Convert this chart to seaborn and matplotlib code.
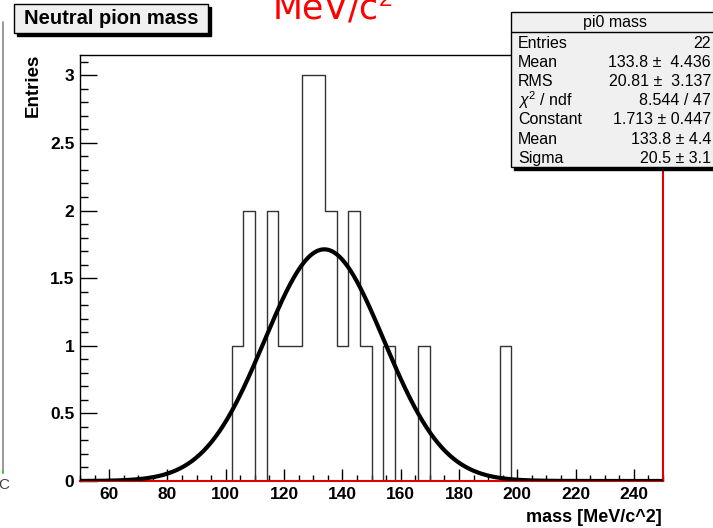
import numpy as np
import pandas as pd
import matplotlib
matplotlib.use("Agg")
import matplotlib.pyplot as plt
from matplotlib.patches import Rectangle
from matplotlib.lines import Line2D
from matplotlib.ticker import MultipleLocator, FuncFormatter
import seaborn as sns

# ---------------- data ----------------
x_range = (50, 250)
n_bins = 50
counts = [0, 0, 0, 0, 0, 0, 0, 0, 0, 0,
          0, 0, 0, 1, 2, 0, 2, 1, 1, 3,
          3, 2, 1, 2, 1, 0, 1, 0, 0, 1,
          0, 0, 0, 0, 0, 0, 1, 0, 0, 0,
          0, 0, 0, 0, 0, 0, 0, 0, 0, 0]
fit_const = 1.713
fit_mean = 133.8
fit_sigma = 20.5
x_ticks = [60, 80, 100, 120, 140, 160, 180, 200, 220, 240]
y_ticks = [0, 0.5, 1, 1.5, 2, 2.5, 3]
y_max = 3.15

stats_title = "pi0 mass"
stats_names = ["Entries", "Mean", "RMS", r"$\chi^{2}$ / ndf", "Constant", "Mean", "Sigma"]
stats_values = ["22", "133.8 \u00b1  4.436", "20.81 \u00b1  3.137", "8.544 / 47",
                "1.713 \u00b1 0.447", "133.8 \u00b1 4.4", "20.5 \u00b1 3.1"]
title_text = "Neutral pion mass"
x_label = "mass [MeV/c^2]"
y_label = "Entries"
# --------------------------------------

sns.set_style("ticks")
plt.rcParams["font.family"] = ["Liberation Sans", "DejaVu Sans"]
plt.rcParams["mathtext.fontset"] = "custom"
plt.rcParams["mathtext.rm"] = "Liberation Sans"
plt.rcParams["mathtext.it"] = "Liberation Sans:italic"
plt.rcParams["text.color"] = "black"
plt.rcParams["xtick.color"] = "black"
plt.rcParams["ytick.color"] = "black"

W, H = 713, 528
fig = plt.figure(figsize=(W / 100, H / 100), dpi=100)
fig.patch.set_facecolor("white")


def fx(px):
    return px / W


def fy(py):
    return 1 - py / H


ax = fig.add_axes([fx(80), fy(481), (663 - 80) / W, (481 - 55) / H])
ax.set_facecolor("white")

bin_w = (x_range[1] - x_range[0]) / n_bins
centers = x_range[0] + bin_w * (np.arange(n_bins) + 0.5)
df = pd.DataFrame({"mass": centers, "n": np.asarray(counts, dtype=float)})
sns.histplot(data=df, x="mass", weights="n", bins=n_bins, binrange=x_range,
             element="step", fill=False, color="#333333", linewidth=1.0,
             ax=ax, zorder=2)

xs = np.linspace(x_range[0], x_range[1], 600)
ys = fit_const * np.exp(-0.5 * ((xs - fit_mean) / fit_sigma) ** 2)
sns.lineplot(x=xs, y=ys, color="black", linewidth=3.0, ax=ax, zorder=3)

ax.set_xlim(*x_range)
ax.set_ylim(0, y_max)
ax.set_xticks(x_ticks)
ax.set_yticks(y_ticks)
ax.xaxis.set_minor_locator(MultipleLocator(5))
ax.yaxis.set_minor_locator(MultipleLocator(0.1))
ax.yaxis.set_major_formatter(FuncFormatter(lambda v, p: f"{v:g}"))
ax.tick_params(axis="both", which="both", bottom=True, left=True,
               top=False, right=False, colors="black")
ax.tick_params(axis="x", which="major", direction="in", length=9, width=1,
               pad=4, labelsize=12.5)
ax.tick_params(axis="x", which="minor", direction="in", length=4.5, width=1)
ax.tick_params(axis="y", which="major", direction="in", length=12, width=1,
               pad=4, labelsize=12.5)
ax.tick_params(axis="y", which="minor", direction="in", length=6, width=1)
for lab in ax.get_xticklabels() + ax.get_yticklabels():
    lab.set_fontweight("bold")

ax.set_xlabel("")
ax.set_ylabel("")
for side in ["left", "top"]:
    ax.spines[side].set_color("black")
    ax.spines[side].set_linewidth(1.0)
for side in ["bottom", "right"]:
    ax.spines[side].set_color("#e00000")
    ax.spines[side].set_linewidth(1.5)

fig.text(fx(662), fy(517), x_label, ha="right", va="center",
         fontsize=13, fontweight="bold")
fig.text(fx(33), fy(54), y_label, ha="center", va="top", rotation=90,
         fontsize=13.5, fontweight="bold")

# title box
fig.add_artist(Rectangle((fx(17), fy(36)), (208 - 14) / W, (33 - 4) / H,
                         transform=fig.transFigure, facecolor="black",
                         edgecolor="black", zorder=10))
fig.add_artist(Rectangle((fx(14), fy(33)), (208 - 14) / W, (33 - 4) / H,
                         transform=fig.transFigure, facecolor="#f0f0f0",
                         edgecolor="black", linewidth=1, zorder=11))
fig.text(fx(111), fy(18.5), title_text, ha="center", va="center",
         fontsize=14.5, fontweight="bold", zorder=12)

# stats box
bx0, by0, by1 = 511, 12, 167
fig.add_artist(Rectangle((fx(bx0 + 3), fy(by1 + 3)), (730 - bx0) / W,
                         (by1 - by0) / H, transform=fig.transFigure,
                         facecolor="black", edgecolor="black", zorder=10))
fig.add_artist(Rectangle((fx(bx0), fy(by1)), (730 - bx0) / W,
                         (by1 - by0) / H, transform=fig.transFigure,
                         facecolor="#f0f0f0", edgecolor="black",
                         linewidth=1, zorder=11))
fig.add_artist(Line2D([fx(bx0), fx(713)], [fy(32), fy(32)],
                      transform=fig.transFigure, color="black",
                      linewidth=1, zorder=12))
fig.text(fx(615), fy(22), stats_title, ha="center", va="center",
         fontsize=11.5, zorder=13)
row_y = [43, 62.5, 81.5, 100.5, 120, 139.5, 158]
for name, val, yy in zip(stats_names, stats_values, row_y):
    fig.text(fx(518), fy(yy), name, ha="left", va="center", fontsize=11.5,
             zorder=13)
    fig.text(fx(711), fy(yy), val, ha="right", va="center", fontsize=11.5,
             zorder=13)

# red handwritten annotation (cut at top)
fig.text(fx(272), fy(19), r"MeV/c$^{2}$", ha="left", va="baseline",
         fontsize=25, color="red", family=["DejaVu Sans"], zorder=13)

# screenshot remnants at the left edge
fig.add_artist(Line2D([fx(2.5), fx(2.5)], [fy(22), fy(471)],
                      transform=fig.transFigure, color="#888888",
                      linewidth=1.2, zorder=5))
fig.add_artist(Line2D([fx(2.5), fx(2.5)], [fy(471), fy(473)],
                      transform=fig.transFigure, color="#33cc33",
                      linewidth=1.5, zorder=5))
fig.text(fx(-2), fy(485), "C", ha="left", va="center", fontsize=11,
         color="#444444")

fig.savefig("out.png", dpi=100)
